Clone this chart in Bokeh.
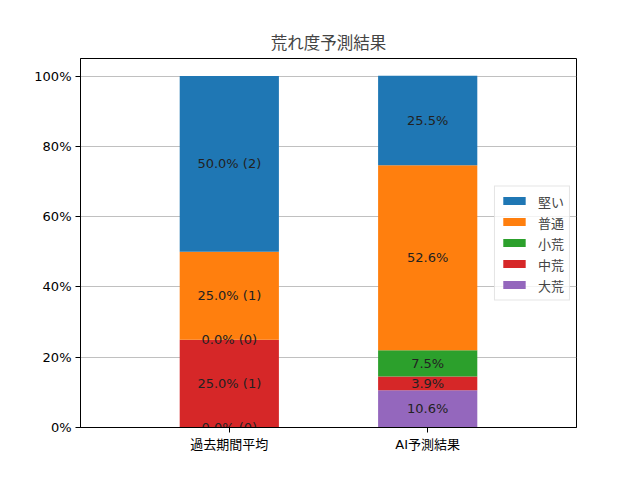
from bokeh.plotting import figure
from bokeh.models import (ColumnDataSource, FixedTicker, PrintfTickFormatter,
                          Legend, LegendItem, Range1d)
from bokeh.core.properties import value
from bokeh.embed import file_html
from bokeh.resources import INLINE

FONT = "DejaVu Sans, Noto Sans CJK JP"
CJK = "Noto Sans CJK JP"

categories = ["過去期間平均", "AI予測結果"]
series = ["大荒", "中荒", "小荒", "普通", "堅い"]  # bottom -> top
colors = ["#9467bd", "#d62728", "#2ca02c", "#ff7f0e", "#1f77b4"]

past_pct = [0.0, 25.0, 0.0, 25.0, 50.0]
past_cnt = [0, 1, 0, 1, 2]
ai_pct = [10.6, 3.9, 7.5, 52.6, 25.5]

xs = [0, 1]
data = {"x": xs}
for i, s in enumerate(series):
    data[s] = [past_pct[i], ai_pct[i]]
src = ColumnDataSource(data)

p = figure(width=624, height=464, output_backend="svg", toolbar_location=None,
           x_range=Range1d(-0.75, 1.75), y_range=Range1d(0, 105),
           min_border_left=80, min_border_right=48, min_border_top=58,
           min_border_bottom=37, title="荒れ度予測結果")

renderers = p.vbar_stack(series, x="x", width=0.5, color=colors, source=src,
                         line_color=None)

# labels
lx, ly, lt = [], [], []
cum = 0.0
for i in range(len(series)):
    lx.append(0)
    ly.append(cum + past_pct[i] / 2)
    lt.append(f"{past_pct[i]:.1f}% ({past_cnt[i]})")
    cum += past_pct[i]
cum = 0.0
for i in range(len(series)):
    lx.append(1)
    ly.append(cum + ai_pct[i] / 2)
    lt.append(f"{ai_pct[i]:.1f}%")
    cum += ai_pct[i]
p.text(x=lx, y=ly, text=lt, text_align="center", text_baseline="middle",
       text_font=value(FONT), text_font_size="13px", text_color="#222222")

items = [LegendItem(label=series[i], renderers=[renderers[i]])
         for i in reversed(range(len(series)))]
legend = Legend(items=items, location="center_right", glyph_width=28,
                glyph_height=10, label_height=16, spacing=2, padding=5,
                margin=6, label_standoff=10, label_text_font=CJK,
                label_text_font_size="13px", border_line_color="#cccccc",
                background_fill_alpha=0.8)
p.add_layout(legend, "center")

p.title.align = "center"
p.title.text_font = CJK
p.title.text_font_size = "16.5px"
p.title.text_font_style = "normal"

p.yaxis.ticker = FixedTicker(ticks=[0, 20, 40, 60, 80, 100])
p.yaxis.formatter = PrintfTickFormatter(format="%d%%")
p.xaxis.ticker = FixedTicker(ticks=xs)
p.xaxis.major_label_overrides = {xs[i]: categories[i] for i in range(2)}
for ax in (p.xaxis, p.yaxis):
    ax.major_label_text_font = FONT
    ax.major_label_text_font_size = "13px"
    ax.major_label_text_color = "black"
    ax.axis_line_color = "black"
    ax.major_tick_line_color = "black"
    ax.major_tick_out = 5
    ax.major_tick_in = 0
    ax.minor_tick_line_color = None
    ax.major_label_standoff = 4

p.xgrid.grid_line_color = None
p.ygrid.grid_line_color = "#b0b0b0"
p.ygrid.grid_line_width = 0.8
p.outline_line_color = "black"
p.outline_line_alpha = 1
p.background_fill_color = "white"

open("out.html", "w").write(file_html(p, INLINE))
